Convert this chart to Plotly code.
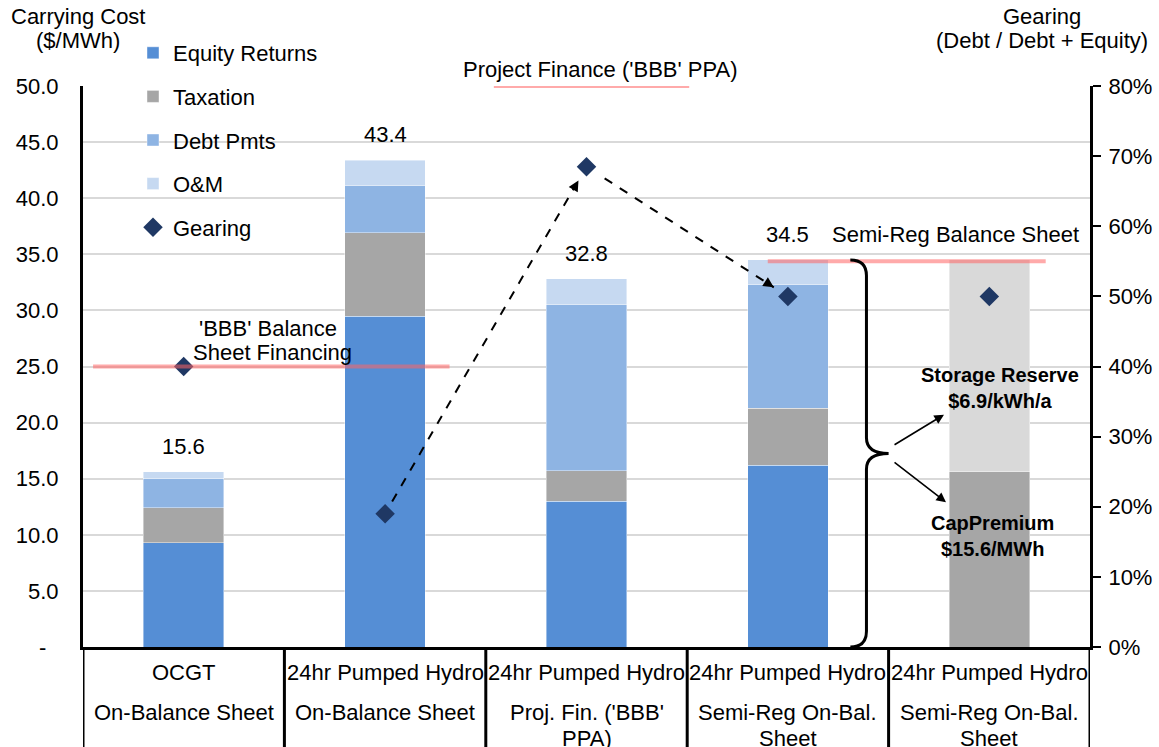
import plotly.graph_objects as go

# ---- data ----------------------------------------------------------------
technology = ["OCGT", "24hr Pumped Hydro", "24hr Pumped Hydro",
              "24hr Pumped Hydro", "24hr Pumped Hydro"]
financing = [["On-Balance Sheet"], ["On-Balance Sheet"],
             ["Proj. Fin. ('BBB'", "PPA)"], ["Semi-Reg On-Bal.", "Sheet"],
             ["Semi-Reg On-Bal.", "Sheet"]]

equity_returns = [9.3, 29.5, 13.0, 16.2, None]
taxation = [3.1, 7.4, 2.7, 5.1, None]
debt_pmts = [2.6, 4.2, 14.8, 11.0, None]
o_and_m = [0.6, 2.3, 2.3, 2.2, None]
cap_premium = [None, None, None, None, 15.6]
storage_reserve = [None, None, None, None, 18.9]
gearing_pct = [40, 19, 68.5, 50, 50]

# benchmark gearing levels (%)
bbb_balance_sheet_gearing = 40
project_finance_gearing = 80
semi_reg_gearing = 55

cost_ticks = [0, 5, 10, 15, 20, 25, 30, 35, 40, 45, 50]
cost_ticktext = ["-\u00a0\u00a0", "5.0", "10.0", "15.0", "20.0", "25.0",
                 "30.0", "35.0", "40.0", "45.0", "50.0"]
gearing_ticks = [0, 10, 20, 30, 40, 50, 60, 70, 80]
gearing_ticktext = [f"{v}%" for v in gearing_ticks]

# ---- layout constants ------------------------------------------------------
W, H = 1159, 747
ML, MR, MT, MB = 83, 69, 86, 100
PW, PH = W - ML - MR, H - MT - MB
FONT = "Liberation Sans, Arial, sans-serif"
FS = 22

C_EQ = "#558ED5"
C_TAX = "#A6A6A6"
C_DEBT = "#8EB4E3"
C_OM = "#C6D9F1"
C_RES = "#D9D9D9"
C_GEAR = "#1F3864"
C_REF = "rgba(255,100,100,0.55)"


def px_x(p):
    return (p - ML) / PW


def px_y(p):
    return (MT + PH - p) / PH


def label(px, py, text, size=FS):
    return dict(xref="paper", yref="paper", x=px_x(px), y=px_y(py), text=text,
                showarrow=False, xanchor="center", yanchor="middle",
                font=dict(size=size))


x = list(range(len(technology)))

fig = go.Figure()
bar_kw = dict(width=0.4, marker_line=dict(width=0.6, color="rgba(255,255,255,0.7)"))
series = [("Equity Returns", equity_returns, C_EQ, True),
          ("Taxation", taxation, C_TAX, True),
          ("Debt Pmts", debt_pmts, C_DEBT, True),
          ("O&M", o_and_m, C_OM, True),
          ("CapPremium", cap_premium, C_TAX, False),
          ("Storage Reserve", storage_reserve, C_RES, False)]
for name, vals, col, show in series:
    fig.add_trace(go.Bar(x=x, y=vals, name=name, marker_color=col,
                         showlegend=show, legendgroup=name, **bar_kw))

fig.add_trace(go.Scatter(x=x, y=gearing_pct, name="Gearing", mode="markers",
                         yaxis="y2", legendgroup="Gearing",
                         marker=dict(symbol="diamond", size=15, color=C_GEAR)))

annotations = []

# totals above each stack
parts = [equity_returns, taxation, debt_pmts, o_and_m, cap_premium, storage_reserve]
totals = [round(sum(p[i] for p in parts if p[i] is not None), 1) for i in x]
for i in x[:4]:
    annotations.append(dict(x=i, y=totals[i], xref="x", yref="y", text=f"{totals[i]:.1f}",
                            showarrow=False, xanchor="center", yanchor="bottom", yshift=11,
                            font=dict(size=FS)))

# benchmark gearing reference lines
shapes = []
ref_lines = [(-0.45, 1.32, bbb_balance_sheet_gearing),
             (1.54, 2.51, project_finance_gearing),
             (2.9, 4.28, semi_reg_gearing)]
for x0, x1, g in ref_lines:
    shapes.append(dict(type="line", xref="x", yref="y2", x0=x0, x1=x1, y0=g, y1=g,
                       line=dict(color=C_REF, width=4), layer="above"))

annotations += [
    label(268, 328, "'BBB' Balance"),
    label(272, 352, "Sheet Financing"),
    label(600, 70, "Project Finance ('BBB' PPA)"),
    label(955, 234, "Semi-Reg Balance Sheet"),
]

# dashed arrows linking the gearing points
for a, b, s0, s1 in [(1, 2, 0.035, 0.04), (2, 3, 0.09, 0.07)]:
    xa, ya, xb, yb = a, gearing_pct[a], b, gearing_pct[b]
    dx, dy = xb - xa, yb - ya
    sx, sy = xa + s0 * dx, ya + s0 * dy
    ex, ey = xb - s1 * dx, yb - s1 * dy
    shapes.append(dict(type="line", xref="x", yref="y2", x0=sx, y0=sy, x1=ex, y1=ey,
                       line=dict(color="black", width=2, dash="dash"), layer="above"))
    annotations.append(dict(x=ex, y=ey, xref="x", yref="y2",
                            ax=ex - 0.03 * dx, ay=ey - 0.03 * dy, axref="x", ayref="y2",
                            text="", showarrow=True, arrowhead=2, arrowsize=1.3,
                            arrowwidth=1.6, arrowcolor="black"))

# curly brace spanning the semi-regulated stack
top = totals[3]
mid = top / 2
bx0, bx1, bx2 = 3.31, 3.39, 3.50
brace = (f"M {bx0},{top} Q {bx1},{top} {bx1},{top - 1.4} "
         f"L {bx1},{mid + 1.4} Q {bx1},{mid} {bx2},{mid} "
         f"Q {bx1},{mid} {bx1},{mid - 1.4} "
         f"L {bx1},1.4 Q {bx1},0 {bx0},0")
shapes.append(dict(type="path", xref="x", yref="y", path=brace,
                   line=dict(color="black", width=3)))

for tx, ty in [(3.775, 20.7), (3.785, 12.9)]:
    annotations.append(dict(x=tx, y=ty, xref="x", yref="y", ax=3.522,
                            ay=mid + (0.7 if ty > mid else -0.7),
                            axref="x", ayref="y", text="", showarrow=True, arrowhead=2,
                            arrowsize=1.2, arrowwidth=1.6, arrowcolor="black"))

annotations += [
    label(1000, 388, "<b>Storage Reserve<br>$6.9/kWh/a</b>", size=20),
    label(992, 536, "<b>CapPremium<br>$15.6/MWh</b>", size=20),
]

# axis titles
annotations += [
    label(78, 17, "Carrying Cost"),
    label(78, 41, "($/MWh)"),
    label(1042, 17, "Gearing"),
    label(1042, 41, "(Debt / Debt + Equity)"),
]

# category table under the plot
y_bottom = px_y(H + 5)
for k in range(len(technology) + 1):
    shapes.append(dict(type="line", xref="x", yref="paper", x0=k - 0.5, x1=k - 0.5,
                       y0=0, y1=y_bottom, line=dict(color="black", width=3)))
for i in x:
    annotations.append(dict(x=i, y=px_y(672), xref="x", yref="paper", text=technology[i],
                            showarrow=False, xanchor="center", yanchor="middle",
                            font=dict(size=FS)))
    for j, line in enumerate(financing[i]):
        annotations.append(dict(x=i, y=px_y(712 + 26 * j), xref="x", yref="paper",
                                text=line, showarrow=False, xanchor="center",
                                yanchor="middle", font=dict(size=FS)))

fig.update_layout(
    width=W, height=H,
    margin=dict(l=ML, r=MR, t=MT, b=MB, autoexpand=False),
    paper_bgcolor="white", plot_bgcolor="white",
    font=dict(family=FONT, size=FS, color="black"),
    barmode="stack",
    showlegend=True,
    legend=dict(x=px_x(133), y=px_y(32), xanchor="left", yanchor="top",
                traceorder="grouped", tracegroupgap=12,
                bgcolor="rgba(0,0,0,0)", font=dict(size=FS)),
    xaxis=dict(range=[-0.5, 4.5], showticklabels=False, showgrid=False, zeroline=False,
               showline=True, linecolor="black", linewidth=3, ticks=""),
    yaxis=dict(range=[0, 50], tickvals=cost_ticks, ticktext=cost_ticktext,
               showgrid=True, gridcolor="#D9D9D9", gridwidth=1.5, zeroline=False,
               showline=True, linecolor="black", linewidth=3, ticks="",
               ticklabelstandoff=17),
    yaxis2=dict(range=[0, 80], tickvals=gearing_ticks, ticktext=gearing_ticktext,
                overlaying="y", side="right", showgrid=False, zeroline=False,
                showline=True, linecolor="black", linewidth=3,
                ticks="outside", ticklen=8, tickwidth=2, tickcolor="black",
                ticklabelstandoff=3),
    shapes=shapes,
    annotations=annotations,
)

fig.write_html("out.html")
